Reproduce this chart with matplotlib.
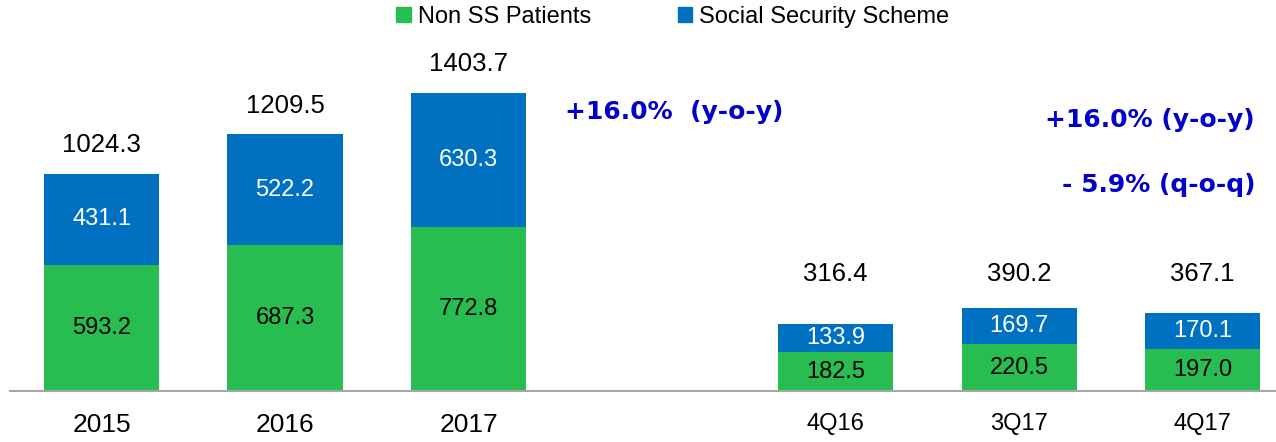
import numpy as np
import matplotlib.pyplot as plt
from matplotlib.patches import Patch

plt.rcParams['font.family'] = ['Liberation Sans', 'DejaVu Sans']

years = ['2015', '2016', '2017']
yearNonSS = [593.2, 687.3, 772.8]
yearSS = [431.1, 522.2, 630.3]
yearTotal = [1024.3, 1209.5, 1403.7]

quarters = ['4Q16', '3Q17', '4Q17']
quarterNonSS = [182.5, 220.5, 197.0]
quarterSS = [133.9, 169.7, 170.1]
quarterTotal = [316.4, 390.2, 367.1]

growthYear = '+16.0%  (y-o-y)'
growthQuarter = ['+16.0% (y-o-y)', '- 5.9% (q-o-q)']

green = '#28BD50'
blue = '#0070C0'
noteBlue = '#0000C8'

yearPos = np.arange(len(years))
quarterPos = np.arange(len(quarters)) + len(years) + 1
width = 0.627

fig = plt.figure(figsize=(12.76, 4.42), dpi=100)
ax = fig.add_axes([10 / 1276, 1 - 391 / 442, 1 - 10 / 1276, 341 / 442])

for pos, nonSS, ss, total, labelTop in [(yearPos, yearNonSS, yearSS, yearTotal, False),
                                        (quarterPos, quarterNonSS, quarterSS, quarterTotal, True)]:
    b1 = ax.bar(pos, nonSS, width, color=green)
    b2 = ax.bar(pos, ss, width, bottom=nonSS, color=blue)
    ax.bar_label(b1, labels=[f'{v:.1f}' for v in nonSS], label_type='center', fontsize=17, color='black')
    ax.bar_label(b2, labels=[f'{v:.1f}' for v in ss], label_type='center', fontsize=17, color='white')
    if labelTop:
        # quarterly totals sit on one row above the tallest bar
        for p, t in zip(pos, total):
            ax.annotate(f'{t:.1f}', (p, max(total)), xytext=(0, 16), textcoords='offset points',
                        ha='center', va='bottom', fontsize=18.5)
    else:
        for p, t in zip(pos, total):
            ax.annotate(f'{t:.1f}', (p, t), xytext=(0, 12), textcoords='offset points',
                        ha='center', va='bottom', fontsize=18.5)

ax.set_xlim(-0.4986, 6.4)
ax.set_ylim(0, 1606)
ax.set_yticks([])
for side in ['top', 'right', 'left']:
    ax.spines[side].set_visible(False)
ax.spines['bottom'].set_color('#A6A6A6')
ax.spines['bottom'].set_linewidth(1.5)

ax.set_xticks(list(yearPos) + list(quarterPos))
ax.set_xticklabels(years + quarters)
ax.tick_params(axis='x', length=0, pad=16)
for i, lab in enumerate(ax.get_xticklabels()):
    lab.set_fontsize(19 if i < len(years) else 17)

fig.text(565 / 1276, 1 - 112 / 442, growthYear, color=noteBlue, fontsize=18, fontweight='bold',
         family='DejaVu Sans', ha='left', va='center')
fig.text(1255 / 1276, 1 - 120 / 442, growthQuarter[0], color=noteBlue, fontsize=18, fontweight='bold',
         family='DejaVu Sans', ha='right', va='center')
fig.text(1255 / 1276, 1 - 185 / 442, growthQuarter[1], color=noteBlue, fontsize=18, fontweight='bold',
         family='DejaVu Sans', ha='right', va='center')

handles = [Patch(color=green, label='Non SS Patients'), Patch(color=blue, label='Social Security Scheme')]
fig.legend(handles=handles, loc='center', bbox_to_anchor=(673 / 1276, 1 - 17 / 442), ncol=2,
           frameon=False, fontsize=17, handlelength=0.6, handleheight=0.6, handletextpad=0.3,
           columnspacing=3.7, borderpad=0)

fig.savefig('out.png', dpi=100)
